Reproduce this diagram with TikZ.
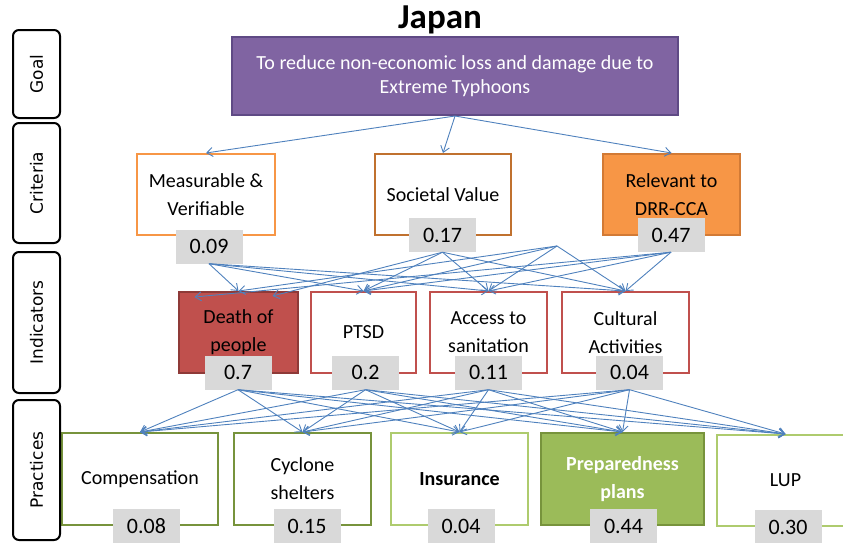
\documentclass[tikz,border=0pt]{standalone}
\usepackage{fontspec}
\setmainfont{Carlito}
\newfontfamily\sidefont{DejaVu Sans}
\usetikzlibrary{arrows.meta}
\definecolor{goalfill}{HTML}{8064A2}
\definecolor{goaldraw}{HTML}{5F4A85}
\definecolor{critorange}{HTML}{F79646}
\definecolor{critbrown}{HTML}{C0712F}
\definecolor{critdark}{HTML}{D27A35}
\definecolor{indred}{HTML}{C0504D}
\definecolor{inddark}{HTML}{8E3A38}
\definecolor{pracgreen}{HTML}{9BBB59}
\definecolor{pracdark}{HTML}{77933C}
\definecolor{praclight}{HTML}{AECB6E}
\definecolor{valgray}{HTML}{D9D9D9}
\definecolor{linkblue}{HTML}{4F81BD}
\tikzset{
	boxnode/.style = {
		align=center,
		inner sep=0pt,
		font=\fontsize{20}{28}\selectfont,
		line width=2pt,
		minimum height=81pt
	},
	box_goal/.style = {
		boxnode,
		draw=goaldraw,
		fill=goalfill,
		text=white,
		font=\fontsize{20}{24.5}\selectfont,
		minimum width=446pt,
		minimum height=78pt
	},
	box_crit/.style = {
		boxnode,
		draw=critorange,
		fill=white
	},
	box_crit_dark/.style = {
		boxnode,
		draw=critbrown,
		fill=white
	},
	box_crit_fill/.style = {
		boxnode,
		draw=critdark,
		fill=critorange
	},
	box_ind/.style = {
		boxnode,
		draw=indred,
		fill=white
	},
	box_ind_fill/.style = {
		boxnode,
		draw=inddark,
		fill=indred
	},
	box_prac/.style = {
		boxnode,
		draw=pracdark,
		fill=white,
		minimum height=92pt
	},
	box_prac_light/.style = {
		box_prac,
		draw=praclight
	},
	box_prac_fill/.style = {
		box_prac,
		fill=pracgreen,
		text=white,
		font=\fontsize{20}{28}\selectfont\bfseries
	},
	node_val/.style = {
		inner sep=0pt,
		fill=valgray,
		font=\fontsize{22}{26}\selectfont,
		minimum width=67pt,
		minimum height=34pt
	},
	node_side/.style = {
		rectangle,
		rounded corners=6pt,
		draw=black,
		line width=2pt,
		fill=white,
		rotate=90,
		inner sep=0pt,
		minimum height=47pt,
		font=\sidefont\fontsize{17}{20}\selectfont
	},
	link/.style = {
		->,
		draw=linkblue,
		line width=0.9pt
	}
}
\begin{document}
\begin{tikzpicture}[x=1pt,y=-1pt,>={Straight Barb[length=6pt,width=9pt]}]
\useasboundingbox (0,0) rectangle (843,542);
\clip (0,0) rectangle (843,542);

% row labels
\node [node_side, minimum width=88pt] (sgoal) at (36.5,74) {Goal};
\node [node_side, minimum width=120pt] (scrit) at (36.5,183) {Criteria};
\node [node_side, minimum width=141pt] (sind) at (36.5,322.5) {Indicators};

\node [font=\fontsize{35}{40}\selectfont\bfseries] (title) at (440,20) {Japan};

% goal and criteria
\node [box_goal] (goal) at (455,76) {To reduce non-economic loss and damage due to\\Extreme Typhoons};
\node [box_crit, minimum width=138pt] (mv) at (206,194.5) {Measurable \&\\Verifiable};
\node [box_crit_dark, minimum width=136pt] (sv) at (443,194.5) {Societal Value};
\node [box_crit_fill, minimum width=137pt] (rel) at (671.5,194.5) {Relevant to\\DRR-CCA};
\node [node_val] (vmv) at (209,246.5) {0.09};
\node [node_val] (vsv) at (442.5,235) {0.17};
\node [node_val] (vrel) at (671,235) {0.47};
\coordinate (hub) at (557,246);

% indicators
\node [box_ind_fill, minimum width=119pt] (death) at (238.5,332.5) {Death of\\people};
\node [box_ind, minimum width=105pt] (ptsd) at (363.5,332.5) {PTSD};
\node [box_ind, minimum width=117pt] (access) at (488.5,332.5) {Access to\\sanitation};
\node [box_ind, minimum width=127pt] (cult) at (625.5,332.5) {Cultural\\Activities};
\node [node_val] (v7) at (238,372.5) {0.7};
\node [node_val] (v2) at (365.5,372.5) {0.2};
\node [node_val] (v11) at (488.5,372.5) {0.11};
\node [node_val] (v04) at (629.5,372.5) {0.04};
\coordinate (deathl) at ([xshift=-44pt,yshift=-6pt]death.north);
\coordinate (deathr) at ([xshift=34pt,yshift=-5pt]death.north);

% practices
\node [box_prac, minimum width=156pt] (comp) at (140,479) {Compensation};
\node [box_prac, minimum width=137pt] (cyc) at (302.5,479) {Cyclone\\shelters};
\node [box_prac_light, minimum width=137pt, font=\fontsize{20}{28}\selectfont\bfseries] (ins) at (459.5,479) {Insurance};
\node [box_prac_fill, minimum width=163pt] (prep) at (622.5,479) {Preparedness\\plans};
\node [box_prac_light, minimum width=137pt, minimum height=91pt] (lup) at (785.5,480.5) {LUP};
\node [node_val] (v08) at (146.5,526) {0.08};
\node [node_val] (v15) at (307,526) {0.15};
\node [node_val] (v04b) at (461,526) {0.04};
\node [node_val] (v44) at (623.5,526) {0.44};
\node [node_val] (v30) at (788,527) {0.30};
\node [node_side, minimum width=140pt] (sprac) at (36.5,470) {Practices};

% connectors
\foreach \t in {mv,sv,rel}
	\draw [link] (goal.south) -- (\t.north);
\draw [link] (vmv.south) -- (death.north);
\draw [link] (vsv.south) -- (deathr);
\draw [link] (hub) -- (death.north);
\draw [link] (vrel.south) -- (deathl);
\foreach \s in {vmv.south,vsv.south,hub,vrel.south}
	\foreach \t in {ptsd,access,cult}
		\draw [link] (\s) -- (\t.north);
\foreach \s in {v7,v2,v11,v04}
	\foreach \t in {comp,cyc,ins,prep,lup}
		\draw [link] (\s.south) -- (\t.north);
\end{tikzpicture}
\end{document}
